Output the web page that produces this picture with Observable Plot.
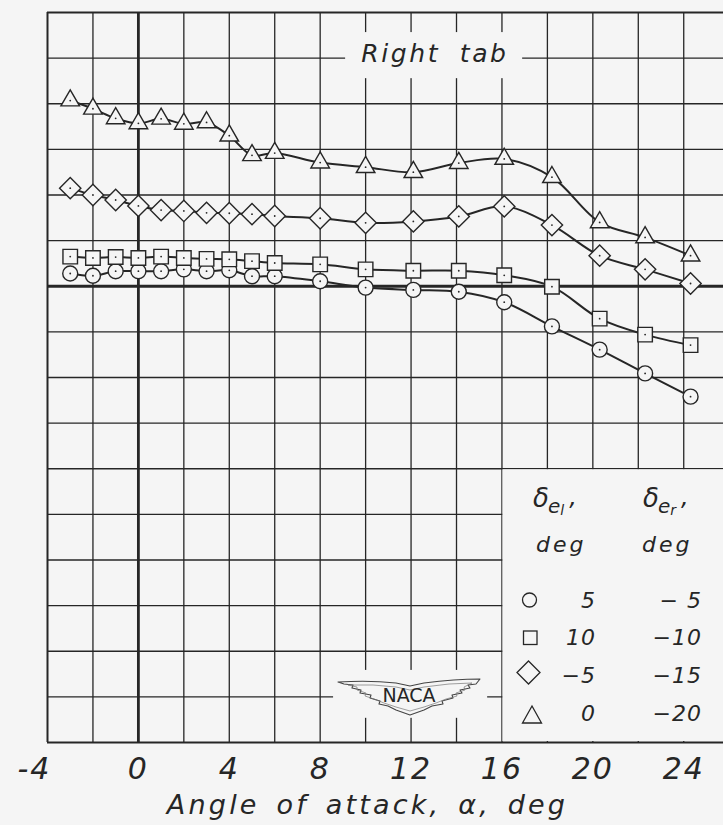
<!DOCTYPE html>
<html><head><meta charset="utf-8">
<script src="https://cdn.jsdelivr.net/npm/d3@7"></script>
<script src="https://cdn.jsdelivr.net/npm/@observablehq/plot@0.6"></script>
<style>
html,body{margin:0;padding:0;background:#f5f5f5;}
#chart svg{display:block;}
</style></head><body><div id="chart"></div>
<script>
// ---- data (y in grid divisions; zero = heavy horizontal line) ----
const alpha = [-3, -2, -1, 0, 1, 2, 3, 4, 5, 6, 8, 10, 12.1, 14.1, 16.1, 18.2, 20.3, 22.3, 24.3];
const circleVals   = [0.28, 0.23, 0.33, 0.33, 0.33, 0.37, 0.33, 0.35, 0.22, 0.22, 0.11, -0.03, -0.08, -0.12, -0.35, -0.88, -1.39, -1.91, -2.42];
const squareVals   = [0.65, 0.62, 0.64, 0.62, 0.65, 0.62, 0.60, 0.59, 0.55, 0.51, 0.48, 0.37, 0.34, 0.34, 0.24, -0.01, -0.71, -1.06, -1.29];
const diamondVals  = [2.15, 2.00, 1.89, 1.76, 1.67, 1.65, 1.61, 1.60, 1.58, 1.54, 1.49, 1.39, 1.42, 1.53, 1.75, 1.34, 0.67, 0.37, 0.06];
const triangleVals = [4.07, 3.89, 3.68, 3.57, 3.67, 3.56, 3.59, 3.30, 2.87, 2.92, 2.71, 2.61, 2.50, 2.70, 2.79, 2.39, 1.40, 1.07, 0.67];
const seriesKeys = ["circle", "square", "diamond2", "triangle"];
const deltaEl = ["5", "10", "\u22125", "0"];
const deltaEr = ["\u2212 5", "\u221210", "\u221215", "\u221220"];
const xTicks = [-4, 0, 4, 8, 12, 16, 20, 24];
const xGridLines = [-2, 2, 4, 6, 8, 10, 12, 14, 16, 18, 20, 22, 24];
const yGridLines = [-9, -8, -7, -6, -5, -4, -3, -2, -1, 1, 2, 3, 4, 5];
const xLabel = "Angle of attack, \u03b1, deg";
const panelLabel = "Right tab";

// ---- build table ----
const allVals = [circleVals, squareVals, diamondVals, triangleVals];
const rows = [];
seriesKeys.forEach((k, s) => alpha.forEach((a, i) => rows.push({series: k, alpha: a, value: allVals[s][i]})));

// ---- styles ----
const bg = "#f5f5f5", ink = "#262626";
const font = "DejaVu Sans";
const symR = {circle: 7.5, square: 8.2, diamond2: 9.6, triangle: 6.9};
const tickText = d => d < 0 ? "-" + Math.abs(d) : String(d);

const marks = [
  Plot.ruleX(xGridLines, {stroke: ink, strokeWidth: 1.3}),
  Plot.ruleY(yGridLines, {stroke: ink, strokeWidth: 1.3}),
  // breaks in the grid behind labels / legend
  Plot.rect([{x1: 9.12, x2: 16.91, y1: 4.55, y2: 5.56}], {x1: "x1", x2: "x2", y1: "y1", y2: "y2", fill: bg}),
  Plot.rect([{x1: 8.59, x2: 15.37, y1: -9.47, y2: -8.42}], {x1: "x1", x2: "x2", y1: "y1", y2: "y2", fill: bg}),
  Plot.rect([{x1: 16, x2: 27, y1: -10, y2: -4}], {x1: "x1", x2: "x2", y1: "y1", y2: "y2", fill: bg, inset: 1}),
  // frame & heavy zero lines
  Plot.ruleX([-4], {stroke: ink, strokeWidth: 2}),
  Plot.ruleY([6], {stroke: ink, strokeWidth: 1.8}),
  Plot.ruleY([-10], {stroke: ink, strokeWidth: 2}),
  Plot.ruleX([0], {stroke: ink, strokeWidth: 2.8}),
  Plot.ruleY([0], {stroke: ink, strokeWidth: 3.2}),
  // curves
  Plot.line(rows, {x: "alpha", y: "value", z: "series", curve: "catmull-rom", stroke: ink, strokeWidth: 2}),
  ...seriesKeys.map(k => Plot.dot(rows.filter(d => d.series === k), {
    x: "alpha", y: "value", symbol: () => k, r: symR[k], fill: bg, stroke: ink, strokeWidth: 1.4
  })),
  Plot.dot(rows, {x: "alpha", y: "value", r: 0.9, fill: ink}),
  // panel label
  Plot.text([{x: 13.05, y: 5.08, t: panelLabel}], {x: "x", y: "y", text: "t", fontSize: 25, fontStyle: "italic",
    fill: ink, lineAnchor: "middle"}),
  // tick labels
  Plot.text(xTicks.filter(d => d >= 0), {x: d => d, text: tickText, frameAnchor: "bottom", dy: 27,
    lineAnchor: "middle", fontSize: 30, fontStyle: "italic", fill: ink}),
  Plot.text(xTicks.filter(d => d < 0), {x: d => d, text: tickText, frameAnchor: "bottom", dy: 27, dx: -13,
    lineAnchor: "middle", fontSize: 30, fontStyle: "italic", fill: ink}),
  // axis title
  Plot.text([xLabel], {frameAnchor: "bottom", dy: 63, dx: -18, lineAnchor: "middle", fontSize: 27,
    fontStyle: "italic", fill: ink})
];

const svgNode = Plot.plot({
  width: 723, height: 825,
  marginLeft: 47, marginRight: 0, marginTop: 12, marginBottom: 83,
  x: {domain: [-4, 25.75], axis: null},
  y: {domain: [-10, 6], axis: null},
  style: {background: bg, fontFamily: font, color: ink},
  marks
});
document.getElementById("chart").appendChild(svgNode);

const svg = d3.select(svgNode);
const withText = s => function() { return this.textContent === s; };
svg.selectAll("text").filter(withText(xLabel)).attr("letter-spacing", "3.2px").attr("word-spacing", "5px");
svg.selectAll("text").filter(withText(panelLabel)).attr("letter-spacing", "2.6px").attr("word-spacing", "9px");
xTicks.forEach(t => svg.selectAll("text").filter(withText(tickText(t))).attr("letter-spacing", "2px"));

// ---- legend ----
const lg = svg.append("g").attr("font-family", font).attr("font-style", "italic").attr("fill", ink)
  .attr("text-anchor", "start");
function header(x, sub) {
  const t = lg.append("text").attr("x", x).attr("y", 507).attr("font-size", 26);
  t.append("tspan").text("\u03b4");
  t.append("tspan").attr("font-size", 20).attr("dy", 6).attr("dx", -1).text("e");
  t.append("tspan").attr("font-size", 14).attr("dy", 2).text(sub);
  t.append("tspan").attr("font-size", 24).attr("dy", -10).attr("dx", 5).text(",");
}
header(533, "l");
header(643, "r");
lg.append("text").attr("x", 536).attr("y", 552).attr("font-size", 22).attr("letter-spacing", "3px").text("deg");
lg.append("text").attr("x", 642).attr("y", 552).attr("font-size", 22).attr("letter-spacing", "3px").text("deg");
const rowY = [608, 645, 683, 721];
deltaEl.forEach((v, i) => lg.append("text").attr("x", 596).attr("y", rowY[i]).attr("font-size", 22)
  .attr("text-anchor", "end").attr("letter-spacing", "1px").text(v));
deltaEr.forEach((v, i) => lg.append("text").attr("x", 702).attr("y", rowY[i]).attr("font-size", 22)
  .attr("text-anchor", "end").attr("letter-spacing", "1px").text(v));
const ls = svg.append("g").attr("fill", "none").attr("stroke", ink).attr("stroke-width", 1.3);
ls.append("circle").attr("cx", 529.5).attr("cy", 600).attr("r", 7);
ls.append("rect").attr("x", 523.5).attr("y", 631).attr("width", 13.5).attr("height", 13.5);
ls.append("path").attr("d", "M528.5,661 L540,672.5 L528.5,684 L517,672.5 Z");
ls.append("path").attr("d", "M532,706 L541.5,723 L522.5,723 Z");

// ---- NACA emblem ----
const logo = svg.append("g").attr("transform", "translate(410,690)");
logo.append("path")
  .attr("d", "M-72,-8 Q-40,-10 -14,-7 L0,-4 L14,-7 Q45,-11 70,-11 L66,-6 L58,-5 L60,-2 L50,0 L52,3 L42,5 L43,8 L32,11 L33,14 L22,16 L14,20 L0,25 L-14,20 L-22,16 L-31,14 L-30,11 L-40,8 L-39,5 L-50,3 L-49,0 L-58,-2 L-57,-5 L-66,-6 Z")
  .attr("fill", bg).attr("stroke", "#444").attr("stroke-width", 1.1).attr("stroke-linejoin", "round");
logo.append("path")
  .attr("d", "M-62,-5 Q-36,-6 -14,-3 L0,0 L14,-3 Q40,-7 62,-7 L54,-3 L55,0 L46,3 L47,6 L36,9 L26,13 L14,17 L0,21 L-14,17 L-26,13 L-36,9 L-45,6 L-44,3 L-53,0 L-53,-3 Z")
  .attr("fill", "none").attr("stroke", "#777").attr("stroke-width", 0.7);
logo.append("text").attr("x", -1).attr("y", 11.5).attr("text-anchor", "middle")
  .attr("font-family", font).attr("font-size", 19).attr("fill", ink).text("NACA");
</script></body></html>
